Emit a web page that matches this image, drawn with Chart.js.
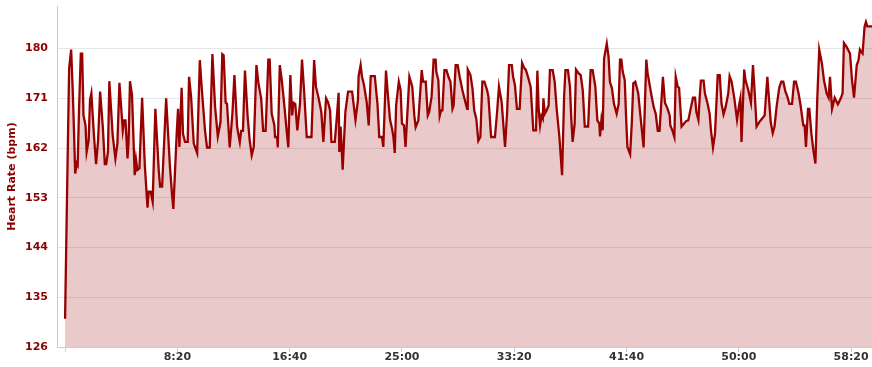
<!DOCTYPE html>
<html>
<head>
<meta charset="utf-8">
<script src="https://cdn.jsdelivr.net/npm/chart.js@4"></script>
<style>
  body { margin: 0; background: #fff; }
  #wrap { width: 872px; height: 367px; }
</style>
</head>
<body>
<div id="wrap"><canvas id="hrChart"></canvas></div>
<script>
// tiempo en segundos desde el inicio
const times = [
  0, 10, 18, 27, 34, 40, 45, 52, 56, 62, 70, 76, 82, 91, 96, 105, 111, 117, 129, 138,
  147, 156, 168, 177, 183, 191, 197, 212, 224, 233, 242, 257, 263, 269, 278, 283, 289, 298, 310, 316,
  322, 331, 343, 355, 367, 372, 381, 390, 402, 417, 423, 432, 450, 467, 476, 482, 497, 503, 509,
  519, 525, 534, 546, 552, 561, 573, 588, 600, 608, 623, 632, 644, 656, 668, 680, 692, 700, 706, 715,
  721, 733, 745, 754, 766, 778, 784, 792, 801, 813, 822, 831, 840, 852, 861, 873, 882, 893, 905, 911,
  920, 932, 935, 944, 947, 956, 965, 977, 985, 994, 1003, 1011, 1017, 1025,
  1034, 1046, 1055, 1064, 1076, 1088, 1097, 1109, 1117, 1129, 1141, 1150, 1162, 1171, 1180, 1186, 1201, 1210,
  1218, 1221, 1227, 1236, 1248, 1260, 1278, 1293, 1304, 1307, 1316, 1322, 1331, 1343, 1352, 1361, 1379, 1391,
  1399, 1411, 1417, 1429, 1438, 1447, 1456, 1462, 1468, 1474, 1486, 1494, 1500, 1509, 1516, 1533,
  1546, 1555, 1561, 1573, 1588, 1594, 1606, 1615, 1621, 1632, 1641, 1650, 1653, 1662, 1668, 1674, 1680, 1689,
  1698, 1707, 1716, 1725, 1730, 1739, 1748, 1757, 1769, 1778, 1790, 1793, 1805, 1814, 1822, 1831, 1840, 1849,
  1858, 1867, 1879, 1885, 1897, 1914, 1923, 1932, 1944, 1959, 1968, 1977, 1989, 1995, 2003, 2012, 2024, 2035,
  2043, 2052, 2061, 2073, 2085, 2097, 2103, 2109, 2115, 2121, 2127, 2130, 2136, 2144, 2153, 2159, 2171, 2180,
  2189, 2201, 2213, 2222, 2228, 2239, 2248, 2254, 2260, 2269, 2275, 2287, 2296, 2305, 2314, 2329, 2340, 2349,
  2361, 2370, 2379, 2382, 2388, 2394, 2400, 2412, 2420, 2426, 2435, 2444, 2456, 2465, 2471, 2477, 2483, 2492,
  2498, 2504, 2516, 2524, 2530, 2539,
  2552, 2561, 2576, 2588, 2594, 2603, 2612, 2621, 2630, 2639, 2647, 2662, 2671, 2683, 2692, 2695, 2704, 2713,
  2719, 2728, 2734, 2739, 2745, 2757, 2766, 2775, 2787, 2796, 2805, 2811, 2820, 2826, 2831, 2843, 2849, 2861,
  2870, 2876, 2885, 2894, 2906, 2915, 2923, 2932, 2941, 2953, 2959, 2968, 2980, 2992, 3001, 3007, 3012, 3024,
  3030, 3042, 3054, 3063,
  3070, 3079, 3091, 3103, 3115, 3127, 3136, 3142, 3151, 3159, 3168, 3180, 3189, 3198, 3207, 3216, 3225, 3237,
  3246, 3254, 3266, 3275, 3287, 3293, 3299, 3308, 3314, 3323, 3332, 3341, 3349, 3358, 3370, 3379, 3391, 3400,
  3406, 3415, 3427, 3441, 3453, 3462, 3468, 3480, 3495, 3504, 3513, 3525, 3533, 3539, 3545, 3551, 3560, 3566,
  3572, 3593
];

// frecuencia cardiaca (bpm)
const heartRate = [
  131.1, 156.8, 176.4, 179.8, 172.5, 164.6, 157.4, 159.2, 158.9, 168.8, 179.1, 179.1, 167.9, 166.1, 161.3, 163.4, 170.7, 171.9, 164.0, 159.1,
  163.4, 172.2, 165.8, 159.1, 159.1, 161.3, 174.1, 164.3, 160.1, 162.8, 173.8, 165.2, 167.0, 167.0, 160.1, 163.4, 174.1, 171.6, 157.1, 159.9,
  158.0, 158.3, 171.1, 158.9, 151.2, 154.1, 154.1, 152.3, 169.1, 158.0, 155.0, 155.0, 171.0, 158.6, 153.7, 151.0, 164.6, 169.1, 162.2,
  172.9, 164.6, 163.1, 163.1, 174.9, 171.3, 162.8, 161.1, 177.9, 173.1, 165.2, 162.1, 162.1, 179.0, 169.4, 164.1, 166.7, 179.0, 178.8, 170.2,
  170.0, 162.1, 168.2, 175.2, 165.8, 163.1, 165.1, 165.1, 176.0, 167.6, 163.4, 160.7, 162.2, 177.0, 173.7, 171.0, 165.1, 165.1, 178.0, 178.0,
  168.2, 166.1, 164.0, 164.0, 162.1, 177.0, 174.3, 169.4, 165.8, 162.1, 175.2, 167.9, 170.2, 170.0,
  165.2, 170.0, 178.0, 172.5, 164.0, 164.0, 164.0, 177.9, 173.1, 171.0, 168.5, 163.1, 171.0, 170.3, 168.8, 163.1, 163.1, 167.6,
  172.0, 161.3, 165.9, 158.1, 168.5, 172.2, 172.2, 167.1, 170.6, 175.0, 177.0, 174.9, 173.4, 170.3, 166.1, 175.0, 175.0, 170.0,
  164.0, 164.0, 162.2, 176.0, 171.3, 167.1, 165.5, 164.0, 161.1, 169.7, 174.0, 172.5, 166.4, 166.1, 162.2, 174.9,
  173.1, 167.9, 165.8, 167.0, 176.1, 174.0, 174.0, 167.9, 168.5, 171.3, 178.0, 178.0, 175.8, 174.3, 167.8, 168.8, 168.8, 176.1,
  176.1, 174.9, 174.0, 169.1, 169.7, 177.0, 177.0, 174.9, 172.5, 171.0, 169.1, 176.2, 175.2, 172.8, 168.8, 167.3, 163.3, 164.0,
  174.0, 174.0, 172.5, 171.3, 164.0, 164.0, 168.2, 173.1, 170.3, 162.2, 168.2, 177.0, 177.0, 174.9, 173.4, 169.1, 169.1, 177.4,
  176.6, 176.1, 174.9, 173.1, 165.2, 165.2, 176.0, 168.8, 166.1, 167.8, 167.3, 171.0, 168.2, 168.8, 169.7, 176.1, 176.1, 174.0,
  169.1, 164.0, 157.1, 171.3, 176.1, 176.1, 173.1, 167.3, 163.1, 166.4, 176.2, 175.5, 175.2, 172.5, 165.9, 165.9, 176.1, 176.1,
  173.1, 167.0, 166.4, 164.1, 167.0, 165.2, 178.2, 180.9, 178.5, 174.0, 172.8, 170.0, 168.2, 170.0, 178.0, 178.0, 175.8, 174.3,
  167.6, 162.2, 160.9, 167.0, 173.7, 174.0,
  171.9, 168.2, 162.1, 178.0, 175.5, 173.4, 171.3, 169.4, 168.2, 165.1, 165.1, 174.9, 170.2, 169.1, 167.9, 166.1, 165.2, 164.0,
  174.9, 173.1, 172.9, 169.7, 165.9, 166.5, 166.9, 167.0, 169.4, 171.1, 171.1, 168.5, 167.1, 171.3, 174.2, 174.2, 171.9, 170.0,
  168.2, 165.2, 162.1, 164.6, 175.2, 175.2, 170.0, 168.1, 169.4, 171.9, 175.0, 174.0, 171.0, 167.1, 169.7, 171.0, 163.1, 176.2,
  174.2, 172.5, 170.2, 177.0,
  172.5, 165.9, 166.7, 167.3, 167.9, 174.9, 170.0, 166.7, 164.7, 165.9, 169.4, 172.9, 174.0, 174.0, 172.3, 171.3, 170.0, 170.0,
  174.0, 174.0, 171.9, 169.7, 166.1, 166.1, 162.2, 169.1, 169.1, 164.6, 161.6, 159.2, 170.6, 179.8, 177.3, 174.3, 171.9, 171.1,
  174.9, 169.1, 171.1, 169.9, 170.9, 171.9, 181.0, 180.3, 179.1, 174.3, 171.1, 177.0, 177.9, 179.8, 179.4, 179.1, 184.0, 184.8,
  184.0, 184.0
];

const yTicks = [126, 135, 144, 153, 162, 171, 180];
const xTicks = [0, 500, 1000, 1500, 2000, 2500, 3000, 3500];

function fmtTime(sec) {
  const m = Math.floor(sec / 60);
  const s = Math.round(sec % 60);
  return m + ':' + (s < 10 ? '0' : '') + s;
}

const puntos = times.map((t, i) => ({ x: t, y: heartRate[i] }));

const ctx = document.getElementById('hrChart');

new Chart(ctx, {
  type: 'line',
  data: {
    datasets: [{
      data: puntos,
      borderColor: '#990000',
      backgroundColor: 'rgba(150, 0, 0, 0.21)',
      borderWidth: 2.3,
      pointRadius: 0,
      tension: 0,
      fill: 'start'
    }]
  },
  options: {
    responsive: true,
    maintainAspectRatio: false,
    animation: false,
    layout: { padding: { top: 6, left: 4, right: 0, bottom: 0 } },
    plugins: {
      legend: { display: false },
      tooltip: { enabled: false }
    },
    scales: {
      x: {
        type: 'linear',
        min: -36,
        max: 3593,
        border: { color: '#c0d0e0', width: 1 },
        grid: { drawOnChartArea: false, drawTicks: true, tickLength: 5, color: '#c0d0e0' },
        afterBuildTicks: axis => { axis.ticks = xTicks.map(v => ({ value: v })); },
        afterFit: s => { s.height = 20; s.paddingLeft = 0; s.paddingRight = 0; },
        ticks: {
          autoSkip: false,
          maxRotation: 0,
          padding: -1,
          color: '#333',
          font: { family: 'DejaVu Sans', size: 11, weight: 'bold' },
          callback: v => v === 0 ? '' : fmtTime(v)
        }
      },
      y: {
        min: 126,
        max: 187.7,
        border: { color: '#c0d0e0', width: 1 },
        grid: { color: '#e6e6e6', drawTicks: false },
        afterBuildTicks: axis => { axis.ticks = yTicks.map(v => ({ value: v })); },
        afterFit: s => { s.width = 53; s.paddingTop = 0; s.paddingBottom = 0; },
        ticks: {
          padding: 9,
          color: '#8b0000',
          font: { family: 'DejaVu Sans', size: 11, weight: 'bold' }
        },
        title: {
          display: true,
          text: 'Heart Rate (bpm)',
          color: '#8b0000',
          padding: { top: 2, bottom: 8 },
          font: { family: 'DejaVu Sans', size: 11, weight: 'bold' }
        }
      }
    }
  }
});
</script>
</body>
</html>
